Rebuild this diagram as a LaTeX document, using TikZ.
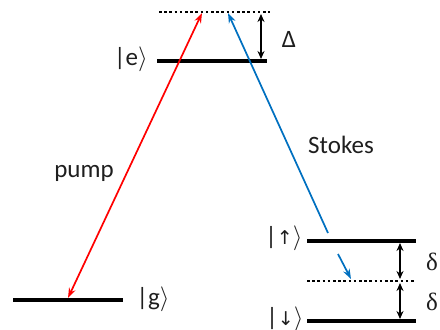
\documentclass[tikz,border=0pt]{standalone}
\usepackage{fontspec}
\setmainfont{Carlito}
\newfontfamily\symf{DejaVu Sans}
\newfontfamily\serf{Liberation Serif}
\usetikzlibrary{arrows.meta}
\definecolor{pumpred}{RGB}{255,0,0}
\definecolor{stokesblue}{RGB}{0,112,192}
\definecolor{txt}{RGB}{30,30,30}
\tikzset{
  level/.style={line width=3.2pt},
  vlevel/.style={line width=2.8pt, dash pattern=on 2.6pt off 2.6pt},
  gap/.style={line width=1.7pt, {Stealth[length=8pt,width=7pt]}-{Stealth[length=8pt,width=7pt]}},
  pumparrow/.style={pumpred, line width=1.7pt, {Stealth[length=10pt,width=7pt]}-{Stealth[length=10pt,width=7pt]}},
  stokesarrow/.style={stokesblue, line width=1.7pt, -{Stealth[length=10pt,width=7pt]}},
  lab/.style={font=\fontsize{25}{28}\selectfont, text=txt, inner sep=0pt}
}
\newcommand{\ket}[1]{|#1$\rangle$}
\begin{document}
\begin{tikzpicture}[x=1pt,y=-1pt]
\useasboundingbox (0,0) rectangle (440,330);
% levels
\coordinate (vL) at (159,12); \coordinate (vR) at (270,12);
\coordinate (eL) at (157,61); \coordinate (eR) at (267,61);
\coordinate (gL) at (13,300); \coordinate (gR) at (123,300);
\coordinate (uL) at (307,241); \coordinate (uR) at (416,241);
\coordinate (dvL) at (307,281); \coordinate (dvR) at (416,281);
\coordinate (dL) at (307,321); \coordinate (dR) at (416,321);
\draw[vlevel] (vL) -- (vR);
\draw[level] (eL) -- (eR);
\draw[level] (gL) -- (gR);
\draw[level] (uL) -- (uR);
\draw[vlevel] (dvL) -- (dvR);
\draw[level] (dL) -- (dR);
% gap arrows
\coordinate (D1) at (261,14); \coordinate (D2) at (261,59);
\draw[gap] (D1) -- (D2);
\coordinate (d1) at (400,243); \coordinate (d2) at (400,279);
\coordinate (d3) at (400,283); \coordinate (d4) at (400,319);
\draw[gap] (d1) -- (d2);
\draw[gap] (d3) -- (d4);
% transitions
\coordinate (pTop) at (202,13); \coordinate (pBot) at (68,298);
\draw[pumparrow] (pBot) -- (pTop);
\coordinate (sTop) at (228,13); \coordinate (sBot) at (328,233);
\draw[stokesarrow] (sBot) -- (sTop);
\coordinate (s2a) at (338,254); \coordinate (s2b) at (351,279);
\draw[stokesarrow] (s2a) -- (s2b);
% labels
\node[lab] (le) at (131,59) {\ket{e}};
\node[lab] (lg) at (153,299) {\ket{g}};
\node[lab] (lu) at (284,238) {|{\symf\fontsize{19}{22}\selectfont↑}$\rangle$};
\node[lab] (ld) at (285,319) {|{\symf\fontsize{19}{22}\selectfont↓}$\rangle$};
\node[lab] (lD) at (289,39) {Δ};
\node[lab] (ld1) at (432,262) {\serf δ};
\node[lab] (ld2) at (432,302) {\serf δ};
\node[lab] (pump) at (84,173) {pump};
\node[lab] (stokes) at (341,145) {Stokes};
\end{tikzpicture}
\end{document}
